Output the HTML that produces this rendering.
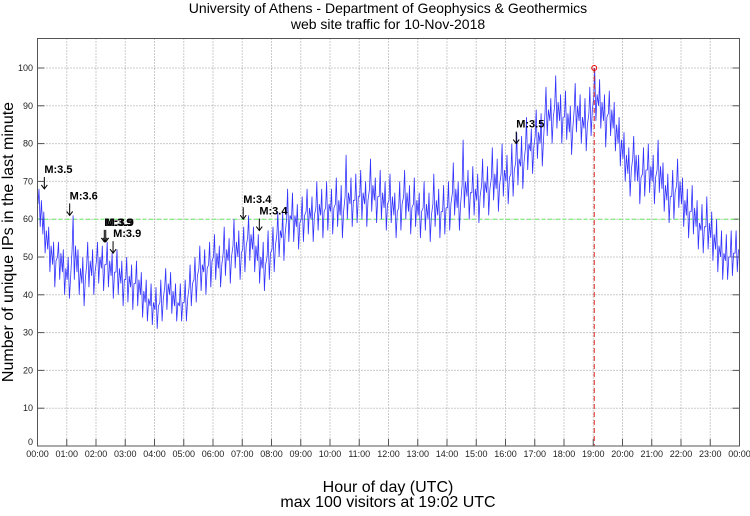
<!DOCTYPE html>
<html><head><meta charset="utf-8"><style>
body{margin:0;background:#fff;font-family:"Liberation Sans",sans-serif}
svg text{font-family:"Liberation Sans",sans-serif}
</style></head><body>
<svg id="c" width="750" height="511" viewBox="0 0 750 511" xmlns="http://www.w3.org/2000/svg">
<text x="388" y="13" font-size="14" text-anchor="middle">University of Athens - Department of Geophysics &amp; Geothermics</text>
<text x="388" y="29" font-size="14" text-anchor="middle">web site traffic for 10-Nov-2018</text>
<text x="388" y="492" font-size="16" text-anchor="middle">Hour of day (UTC)</text>
<text x="388" y="507" font-size="16" text-anchor="middle">max 100 visitors at 19:02 UTC</text>
<text transform="translate(13,242) rotate(-90)" font-size="16" text-anchor="middle">Number of unique IPs in the last minute</text>
<g id="grid"></g><g id="marks"></g><g id="ann"></g>
<rect x="37.5" y="38.5" width="702" height="407.5" fill="none" stroke="#555" stroke-width="1"/>
</svg>
<script>
const hourLabels=["00:00","01:00","02:00","03:00","04:00","05:00","06:00","07:00","08:00","09:00","10:00","11:00","12:00","13:00","14:00","15:00","16:00","17:00","18:00","19:00","20:00","21:00","22:00","23:00","00:00"];
const yTicks=[0,10,20,30,40,50,60,70,80,90,100];
// per 10-minute bin: typical, high and low visitor counts
const visitors=[64,56,52,48,50,46, 44,52,46,43,48,45, 49,47,48,45,46,43, 44,42,43,40,38,37,
36,38,42,40,37,37, 38,42,44,47,46,48, 50,47,51,49,53,50, 52,55,52,49,47,50,
52,56,55,60,60,58, 60,62,60,63,61,63, 62,64,61,66,64,65, 66,64,68,65,66,63,
65,61,63,66,62,64, 61,63,60,64,61,62, 63,67,63,69,66,67, 65,69,67,71,68,72,
70,72,75,74,79,78, 82,80,88,86,90,86, 87,83,89,86,84,88, 92,90,86,88,84,80,
76,72,76,70,72,73, 70,73,68,65,66,69, 64,61,62,58,57,58, 55,52,50,49,50,51];
const highVals=[68,62,58,54,54,52, 50,61,52,50,54,52, 54,53,54,51,52,49, 50,48,49,46,44,43,
42,44,47,46,43,43, 44,48,50,53,52,54, 56,53,58,55,60,57, 58,61,58,56,54,57,
58,62,62,68,67,64, 66,68,66,70,68,70, 68,71,69,77,71,72, 73,70,76,71,73,70,
72,67,70,73,69,71, 67,70,67,72,68,69, 70,75,70,81,73,74, 72,76,74,79,76,80,
77,80,83,82,87,84, 89,88,95,92,98,93, 94,90,96,93,92,95, 100,97,93,94,91,87,
83,79,82,77,79,80, 77,81,75,72,73,76, 71,68,69,65,64,66, 62,60,57,56,57,57];
const lowVals=[58,51,46,42,44,40, 39,44,40,37,42,40, 43,41,42,39,40,37, 38,36,37,34,33,32,
31,33,36,35,33,33, 33,37,38,41,40,42, 44,42,45,43,47,44, 46,49,46,43,41,44,
46,50,49,54,54,52, 54,56,54,57,55,57, 56,58,55,60,58,59, 60,58,62,59,60,57,
59,55,57,60,56,58, 55,57,54,58,55,56, 57,61,57,63,60,61, 59,63,61,65,62,66,
64,66,69,68,73,72, 76,74,82,80,84,80, 81,77,83,80,78,82, 86,84,79,82,78,74,
70,66,70,64,66,67, 64,67,62,59,60,63, 58,55,56,52,51,52, 49,46,44,44,45,46];
const quakeLabels=["M:3.5","M:3.6","M:3.9","M:3.9","M:3.9","M:3.4","M:3.4","M:3.5"];
const quakeMinutes=[14,66,137,140,155,422,455,982];
const quakeLevels=[68,61,54,54,51,60,57,80];
const maxMinute=1142, maxValue=100, threshold=60;
const X0=37.5,X1=739.5,Y0=446,Y1=38.5,YMAX=107.8;
const xs=m=>X0+(X1-X0)*m/1440;
const ys=v=>Y0-(Y0-Y1)*v/YMAX;
const NS="http://www.w3.org/2000/svg";
function mk(t,p,a){const e=document.createElementNS(NS,t);for(const k in a)e.setAttribute(k,a[k]);p.appendChild(e);return e;}
const grid=document.getElementById('grid'),marks=document.getElementById('marks'),ann=document.getElementById('ann');
hourLabels.forEach((l,i)=>{const x=xs(i*60);
 if(i>0&&i<24){const g=mk('line',grid,{x1:x,x2:x,y1:Y1,y2:Y0,stroke:'#999','stroke-dasharray':'1,2'});
 }
 const tk=mk('line',grid,{x1:x,x2:x,y1:Y0,y2:Y0-7,stroke:'#555'});
 
 const t=mk('text',grid,{x:x,y:457,'font-size':9,'text-anchor':'middle',fill:'#222'});t.textContent=l;
 });
yTicks.forEach(v=>{const y=ys(v);
 if(v>0){const g=mk('line',grid,{x1:X0,x2:X1,y1:y,y2:y,stroke:'#999','stroke-dasharray':'1,2'});
 }
 const a=mk('line',grid,{x1:X0,x2:X0+7,y1:y,y2:y,stroke:'#555'});
 const b=mk('line',grid,{x1:X1-7,x2:X1,y1:y,y2:y,stroke:'#555'});
 const t=mk('text',grid,{x:33,y:y+(v==0?-1:3),'font-size':9,'text-anchor':'end',fill:'#222'});t.textContent=v;
 });
const th=mk('line',marks,{x1:X0,x2:X1,y1:ys(threshold),y2:ys(threshold),stroke:'#6e6','stroke-dasharray':'4,3'});

const P=[];
visitors.forEach((v,i)=>{const m=i*10;
 P.push([m+1,v],[m+3,highVals[i]],[m+5.5,lowVals[i]],[m+8,v+1]);});
const pts=P.map(p=>xs(p[0]).toFixed(1)+','+ys(p[1]).toFixed(1)).join(' ');
const ln=mk('polyline',marks,{points:pts,fill:'none',stroke:'#33f','stroke-width':0.8,'stroke-linejoin':'bevel'});

const mx=mk('line',marks,{x1:xs(maxMinute),x2:xs(maxMinute),y1:ys(maxValue),y2:Y0,stroke:'#d22','stroke-dasharray':'5,3'});

const mc=mk('circle',marks,{cx:xs(maxMinute),cy:ys(maxValue),r:2.5,fill:'none',stroke:'#e00'});

quakeLabels.forEach((l,i)=>{const x=xs(quakeMinutes[i]),y=ys(quakeLevels[i]);
 const a=mk('line',ann,{x1:x,x2:x,y1:y-12,y2:y,stroke:'#000','stroke-width':1});
 
 const h=mk('polyline',ann,{points:`${x-3},${y-4} ${x},${y} ${x+3},${y-4}`,fill:'none',stroke:'#000','stroke-width':1});
 
 const t=mk('text',ann,{x:x,y:y-16,'font-size':11,'font-weight':'bold'});t.textContent=l;
 });
</script>
</body></html>
